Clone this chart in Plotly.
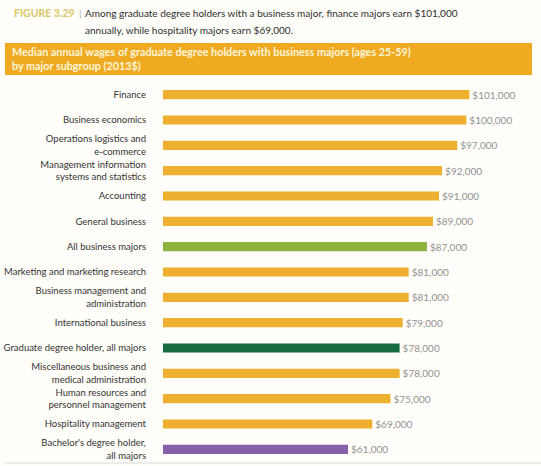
import plotly.graph_objects as go

# Data
majors = [
    "Finance",
    "Business economics",
    "Operations logistics and<br>e-commerce",
    "Management information<br>systems and statistics",
    "Accounting",
    "General business",
    "All business majors",
    "Marketing and marketing research",
    "Business management and<br>administration",
    "International business",
    "Graduate degree holder, all majors",
    "Miscellaneous business and<br>medical administration",
    "Human resources and<br>personnel management",
    "Hospitality management",
    "Bachelor's degree holder,<br>all majors",
]
wages = [101000, 100000, 97000, 92000, 91000, 89000, 87000, 81000,
         81000, 79000, 78000, 78000, 75000, 69000, 61000]
kinds = ["major", "major", "major", "major", "major", "major", "all_business",
         "major", "major", "major", "all_grad", "major", "major", "major",
         "bachelor"]

color_map = {
    "major": "#EEB02F",
    "all_business": "#8DB240",
    "all_grad": "#176B40",
    "bachelor": "#8560A8",
}

font_family = "Lato, 'Open Sans', sans-serif"

# plot area in pixels
L, R, T, B = 163, 14, 82, 4
W, H = 541, 466
PW, PH = W - L - R, H - T - B


def px_x(x):
    return (x - L) / PW


def px_y(y):
    return (H - B - y) / PH


fig = go.Figure(
    go.Bar(
        x=wages,
        y=majors,
        orientation="h",
        marker=dict(color=[color_map[k] for k in kinds], line=dict(width=0)),
        width=0.36,
        text=[f"${w:,.0f}" for w in wages],
        textposition="outside",
        constraintext="none",
        textfont=dict(size=10, color="#929292", family=font_family),
        cliponaxis=False,
        hoverinfo="skip",
    )
)

fig.update_layout(
    width=W,
    height=H,
    margin=dict(l=L, r=R, t=T, b=B, autoexpand=False),
    paper_bgcolor="#FFFEFA",
    plot_bgcolor="#FFFEFA",
    showlegend=False,
    font=dict(family=font_family, size=10, color="#3A3A3A"),
    xaxis=dict(range=[0, 120000], visible=False, automargin=False),
    yaxis=dict(
        range=[len(majors) - 0.5, -0.5],
        automargin=False,
        showgrid=False,
        zeroline=False,
        showline=False,
        ticks="",
        ticklabelstandoff=16,
        tickfont=dict(size=9.5, color="#333333"),
    ),
    shapes=[
        # orange subtitle band
        dict(type="rect", xref="paper", yref="paper",
             x0=px_x(5), x1=px_x(532), y0=px_y(75), y1=px_y(43),
             fillcolor="#F0AA22", line=dict(width=0), layer="below"),
        # bottom rule
        dict(type="line", xref="paper", yref="paper",
             x0=px_x(5), x1=px_x(541), y0=px_y(463), y1=px_y(463),
             line=dict(color="#D8D8D8", width=1)),
    ],
)

fig.add_annotation(text="<b>FIGURE 3.29</b>", x=px_x(12), y=px_y(13),
                   xref="paper", yref="paper", xanchor="left", yanchor="middle",
                   showarrow=False, font=dict(size=10.5, color="#D8C86A"))
fig.add_annotation(text="|", x=px_x(77), y=px_y(13),
                   xref="paper", yref="paper", xanchor="left", yanchor="middle",
                   showarrow=False, font=dict(size=10, color="#B0B0B0"))
fig.add_annotation(
    text="Among graduate degree holders with a business major, finance majors earn $101,000",
    x=px_x(83), y=px_y(13), xref="paper", yref="paper",
    xanchor="left", yanchor="middle", showarrow=False,
    font=dict(size=10, color="#2E2E2E"))
fig.add_annotation(
    text="annually, while hospitality majors earn $69,000.",
    x=px_x(83), y=px_y(30), xref="paper", yref="paper",
    xanchor="left", yanchor="middle", showarrow=False,
    font=dict(size=10, color="#2E2E2E"))
fig.add_annotation(
    text="<b>Median annual wages of graduate degree holders with business majors (ages 25-59)<br>"
         "by major subgroup (2013$)</b>",
    x=px_x(10), y=px_y(58), xref="paper", yref="paper",
    xanchor="left", yanchor="middle", align="left", showarrow=False,
    font=dict(size=10.8, color="#FFF6DC"))

# drop the default page margin so the figure fills the window
fig.write_html("out.html", config={"displayModeBar": False},
               post_script="document.body.style.margin='0';")
